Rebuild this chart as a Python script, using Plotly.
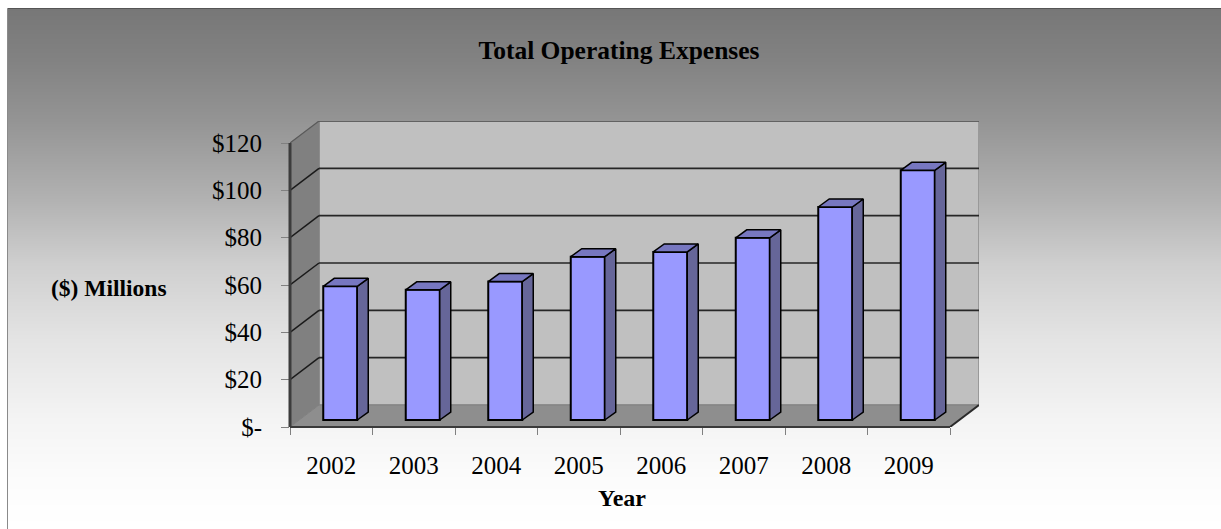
import plotly.graph_objects as go

# ---- data ----
years = ["2002", "2003", "2004", "2005", "2006", "2007", "2008", "2009"]
expenses = [56.5, 55, 58.5, 69, 71, 77, 90, 105.5]
y_ticks = [0, 20, 40, 60, 80, 100, 120]
y_labels = ["$-", "$20", "$40", "$60", "$80", "$100", "$120"]
bg_rows = [8, 60, 120, 200, 264, 340, 420, 480, 529]
bg_grey = [119, 130, 148, 178, 207, 228, 244, 252, 255]

W, H = 1221, 529
# pixel frame of the 3D box
X0, X1, XB = 290, 950, 979     # left front, right front, right back
Y0, Y120, YT = 427, 143, 121   # zero front, 120 front, 120 back
px_x = (X1 - X0) / len(years)
px_y = (Y0 - Y120) / 120
DX = (XB - X1) / px_x          # wall depth in x units
DY = (Y120 - YT) / px_y        # wall depth in value units
BAR_W = 34 / px_x
BAR_SHIFT = 9 / px_x
BAR_BASE = 7 / px_y
SIDE_X = 11 / px_x
SIDE_Y = 8 / px_y
xL, xR = -0.5, len(years) - 0.5


def poly(pts, fill, line=None, width=1):
    path = "M " + " L ".join(f"{x},{y}" for x, y in pts) + " Z"
    return dict(type="path", path=path, xref="x2", yref="y2", layer="below",
                fillcolor=fill, line=dict(color=line or "rgba(0,0,0,0)", width=width))


def seg(x0, y0, x1, y1, color, width):
    return dict(type="line", xref="x2", yref="y2", layer="below", x0=x0, y0=y0, x1=x1, y1=y1,
                line=dict(color=color, width=width))


fig = go.Figure()
# gradient backdrop
fig.add_trace(go.Heatmap(
    z=[[g, g] for g in bg_grey], y=bg_rows, x=[0, 1], showscale=False, hoverinfo="skip",
    zmin=0, zmax=255, zsmooth="best", xaxis="x", yaxis="y",
    colorscale=[[0, "rgb(0,0,0)"], [1, "rgb(255,255,255)"]],
))

# front faces
fig.add_trace(go.Bar(
    x=list(range(len(years))), y=expenses, base=BAR_BASE, width=BAR_W,
    offset=-BAR_W / 2 + BAR_SHIFT, xaxis="x2", yaxis="y2", hoverinfo="skip",
    marker=dict(color="#9999ff", line=dict(color="#000000", width=2)),
))

# side and top faces, derived from the values
for i, v in enumerate(expenses):
    left = i - BAR_W / 2 + BAR_SHIFT
    right = left + BAR_W
    top = v + BAR_BASE
    fig.add_trace(go.Scatter(
        x=[right, right + SIDE_X, right + SIDE_X, right, right],
        y=[BAR_BASE, BAR_BASE + SIDE_Y, top + SIDE_Y, top, BAR_BASE],
        mode="lines", fill="toself", fillcolor="#666699",
        line=dict(color="#000000", width=1.5), xaxis="x2", yaxis="y2", hoverinfo="skip",
    ))
    fig.add_trace(go.Scatter(
        x=[left, left + SIDE_X, right + SIDE_X, right, left],
        y=[top, top + SIDE_Y, top + SIDE_Y, top, top],
        mode="lines", fill="toself", fillcolor="#7777c0",
        line=dict(color="#000000", width=1.5), xaxis="x2", yaxis="y2", hoverinfo="skip",
    ))

shapes = [
    # back wall, side wall, floor
    poly([(xL + DX, DY), (xR + DX, DY), (xR + DX, 120 + DY), (xL + DX, 120 + DY)], "#c0c0c0", "#8c8c8c", 1.5),
    poly([(xL, 0), (xL + DX, DY), (xL + DX, 120 + DY), (xL, 120)], "#808080", "#808080", 1),
    poly([(xL, 0), (xR, 0), (xR + DX, DY), (xL + DX, DY)], "#8e8e8e", "#808080", 1),
]
for t in y_ticks[1:-1]:
    shapes.append(seg(xL, t, xL + DX, t + DY, "#1a1a1a", 1.5))
    shapes.append(seg(xL + DX, t + DY, xR + DX, t + DY, "#262626", 1.7))
shapes.append(seg(xL, 120, xL + DX, 120 + DY, "#5a5a5a", 1.2))
shapes.append(seg(xL + DX, 120 + DY, xR + DX, 120 + DY, "#505050", 1.6))
shapes.append(seg(xR, 0, xR + DX, DY, "#2a2a2a", 2))
# front edges: these straddle the plot edge, so only one axis clips them
front = [
    dict(type="line", xref="paper", yref="y2", layer="above", x0=X0 / W, x1=X0 / W, y0=0, y1=120,
         line=dict(color="#3c3c3c", width=3)),
    dict(type="line", xref="x2", yref="paper", layer="above", x0=xL, x1=xR, y0=1 - Y0 / H, y1=1 - Y0 / H,
         line=dict(color="#3a3a3a", width=2)),
]
# chart border
border = [
    dict(type="line", xref="paper", yref="paper", x0=7.5 / W, x1=1, y0=1 - 8.5 / H, y1=1 - 8.5 / H,
         line=dict(color="#555555", width=1)),
    dict(type="line", xref="paper", yref="paper", x0=7.5 / W, x1=7.5 / W, y0=0, y1=1 - 8.5 / H,
         line=dict(color="#8a8a8a", width=1)),
]

fig.update_layout(
    width=W, height=H, margin=dict(l=0, r=0, t=0, b=0, autoexpand=False), paper_bgcolor="#ffffff",
    plot_bgcolor="rgba(0,0,0,0)", showlegend=False, barmode="overlay",
    font=dict(family="Liberation Serif", color="#000000", size=24),
    title=dict(text="<b>Total Operating Expenses</b>", x=619 / W, xanchor="center",
               y=1 - 50 / H, yanchor="middle", font=dict(size=25.5, family="Liberation Serif")),
    shapes=shapes + front + border,
    xaxis=dict(domain=[8 / W, 1], range=[0, 1], visible=False, fixedrange=True),
    yaxis=dict(domain=[0, 1 - 8 / H], range=[529, 8], visible=False, fixedrange=True),
    xaxis2=dict(
        domain=[X0 / W, XB / W], range=[xL, xR + DX], anchor="y2",
        tickmode="array", tickvals=list(range(len(years))), ticktext=years,
        ticks="", showgrid=False, zeroline=False, showline=False, fixedrange=True,
        tickfont=dict(size=25), ticklabelstandoff=21,
        minor=dict(tickmode="array", tickvals=[xL + k for k in range(len(years) + 1)],
                   ticks="outside", ticklen=7, tickcolor="#808080", tickwidth=1),
    ),
    yaxis2=dict(
        domain=[1 - Y0 / H, 1 - YT / H], range=[0, 120 + DY], anchor="x2",
        tickmode="array", tickvals=y_ticks, ticktext=y_labels, ticks="outside", ticklen=8,
        tickcolor="#808080", tickwidth=1, showgrid=False, zeroline=False, showline=False,
        fixedrange=True, tickfont=dict(size=25), ticklabelstandoff=14,
    ),
    annotations=[
        dict(text="<b>($) Millions</b>", xref="paper", yref="paper", x=108.5 / W,
             y=1 - 288 / H, xanchor="center", yanchor="middle", showarrow=False,
             font=dict(size=23.5, family="Liberation Serif")),
        dict(text="<b>Year</b>", xref="paper", yref="paper", x=622 / W,
             y=1 - 498 / H, xanchor="center", yanchor="middle", showarrow=False,
             font=dict(size=24, family="Liberation Serif")),
    ],
)

fig.write_html("out.html", config={"displayModeBar": False},
               post_script="document.body.style.margin='0';document.body.style.overflow='hidden';")
